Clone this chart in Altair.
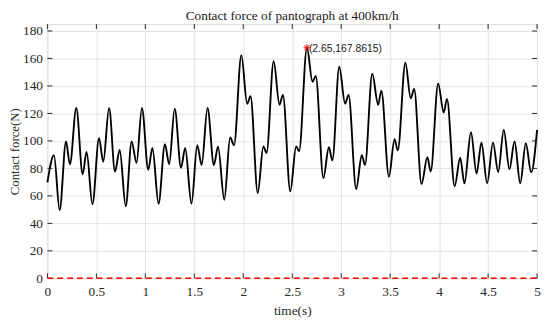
import altair as alt
import pandas as pd

t_vals = [0.0, 0.067, 0.125, 0.19, 0.23, 0.295, 0.36, 0.40, 0.46, 0.527, 0.57, 0.63, 0.69, 0.738, 0.80,
          0.86, 0.91, 0.965, 1.03, 1.072, 1.135, 1.2, 1.243, 1.30, 1.364, 1.407, 1.471, 1.53, 1.575, 1.635,
          1.70, 1.742, 1.806, 1.866, 1.906, 1.98, 2.04, 2.074, 2.148, 2.205, 2.238, 2.31, 2.37, 2.405,
          2.48, 2.54, 2.57, 2.65, 2.707, 2.74, 2.818, 2.874, 2.91, 2.98, 3.04, 3.075, 3.153, 3.21, 3.243,
          3.317, 3.377, 3.41, 3.487, 3.545, 3.578, 3.655, 3.71, 3.745, 3.82, 3.88, 3.914, 3.99, 4.047,
          4.08, 4.158, 4.215, 4.258, 4.325, 4.382, 4.432, 4.49, 4.55, 4.603, 4.66, 4.718, 4.77, 4.828,
          4.885, 4.94, 5.0]
f_vals = [69.8, 89.6, 49.6, 99.6, 83.0, 124.0, 75.8, 92.0, 53.9, 102.0, 84.8, 124.0, 77.7, 93.4, 52.4,
          99.6, 84.0, 124.0, 79.0, 94.8, 54.3, 97.7, 83.0, 123.5, 80.5, 94.8, 54.3, 96.8, 82.5, 124.0,
          82.5, 95.8, 57.2, 102.5, 96.8, 162.4, 127.0, 132.5, 62.0, 96.0, 91.3, 158.0, 126.3, 133.5,
          63.4, 96.0, 92.5, 167.8615, 143.0, 147.3, 73.0, 95.4, 85.8, 154.0, 127.0, 133.5, 65.0, 89.6, 82.5,
          149.0, 126.3, 136.6, 73.9, 101.3, 93.0, 156.9, 131.0, 137.8, 68.7, 88.2, 77.7, 141.8, 120.6,
          130.6, 67.0, 87.7, 69.1, 106.3, 76.3, 98.7, 69.1, 98.7, 77.4, 108.0, 79.4, 99.6, 69.1,
          98.3, 77.0, 108.0]

peak_t = [2.65]
peak_f = [167.8615]
peak_label = ["(2.65,167.8615)"]

x_ticks = [0, 0.5, 1, 1.5, 2, 2.5, 3, 3.5, 4, 4.5, 5]
y_ticks = [0, 20, 40, 60, 80, 100, 120, 140, 160, 180]

W, H = 497, 258

df = pd.DataFrame({"t": t_vals, "f": f_vals})
dpk = pd.DataFrame({"t": peak_t, "f": peak_f, "label": peak_label})
dzero = pd.DataFrame({"t": [0, 5], "f": [0, 0]})
dxt = pd.DataFrame({"t": x_ticks})
dyt = pd.DataFrame({"f": y_ticks})

serif = "Liberation Serif"
axis_col = "#262626"

xs = alt.Scale(domain=[0, 5], nice=False, zero=False)
ys = alt.Scale(domain=[0, 185], nice=False)

xax = alt.Axis(values=x_ticks, title="time(s)", grid=True, ticks=False, domain=False,
               format="~g", labelOverlap=False, tickCount=11,
               labelFont=serif, labelFontSize=13.5, labelColor=axis_col, labelPadding=6,
               titleFont=serif, titleFontSize=13.5, titleFontWeight="normal", titleColor=axis_col,
               titlePadding=6, gridColor="#e3e3e3", labelFlush=False)
yax = alt.Axis(values=y_ticks, title="Contact force(N)", grid=True, ticks=False, domain=False,
               labelOverlap=False, tickCount=10, format="d",
               labelFont=serif, labelFontSize=13.5, labelColor=axis_col, labelPadding=5,
               titleFont=serif, titleFontSize=13, titleFontWeight="normal", titleColor=axis_col,
               titlePadding=1, gridColor="#e3e3e3")

X = alt.X("t:Q", scale=xs, axis=xax, title="time(s)")
Y = alt.Y("f:Q", scale=ys, axis=yax, title="Contact force(N)")

line = alt.Chart(df).mark_line(color="black", strokeWidth=1.9, interpolate="monotone").encode(
    x=X, y=Y)

tick_len = 5
top_ticks = alt.Chart(dxt).mark_rule(color=axis_col, strokeWidth=1).encode(
    x=X, y=alt.value(0), y2=alt.value(tick_len))
bot_ticks = alt.Chart(dxt).mark_rule(color=axis_col, strokeWidth=1).encode(
    x=X, y=alt.value(H - tick_len), y2=alt.value(H))
left_ticks = alt.Chart(dyt).mark_rule(color=axis_col, strokeWidth=1).encode(
    y=Y, x=alt.value(0), x2=alt.value(tick_len))
right_ticks = alt.Chart(dyt).mark_rule(color=axis_col, strokeWidth=1).encode(
    y=Y, x=alt.value(W - tick_len), x2=alt.value(W))

zero = alt.Chart(dzero).mark_line(color="#ff0000", strokeWidth=1.5, strokeDash=[6, 4]).encode(
    x=X, y=Y)

star_path = "M -1 0 L 1 0 M 0 -1 L 0 1 M -0.7 -0.7 L 0.7 0.7 M -0.7 0.7 L 0.7 -0.7"
star = alt.Chart(dpk).mark_point(shape=star_path, color="#ff0000", size=50, filled=False,
                                 strokeWidth=1.2).encode(x=X, y=Y)
label = alt.Chart(dpk).mark_text(align="left", baseline="middle", dx=2, dy=1,
                                 font="Liberation Sans", fontSize=10.5, color="#1a1a1a").encode(
    x=X, y=Y, text="label:N")

chart = alt.layer(line, top_ticks, bot_ticks, left_ticks, right_ticks, zero, star, label).properties(
    width=W, height=H,
    title=alt.TitleParams("Contact force of pantograph at 400km/h", font=serif, fontSize=13.5,
                          fontWeight="normal", color="#1a1a1a", offset=1),
    autosize=alt.AutoSizeParams(type="none"),
    padding={"left": 40, "top": 14, "right": 5, "bottom": 42},
).configure_view(stroke="#404040", strokeWidth=1).configure(background="white")

chart.save("out.html", embed_options={"renderer": "svg", "actions": False})
